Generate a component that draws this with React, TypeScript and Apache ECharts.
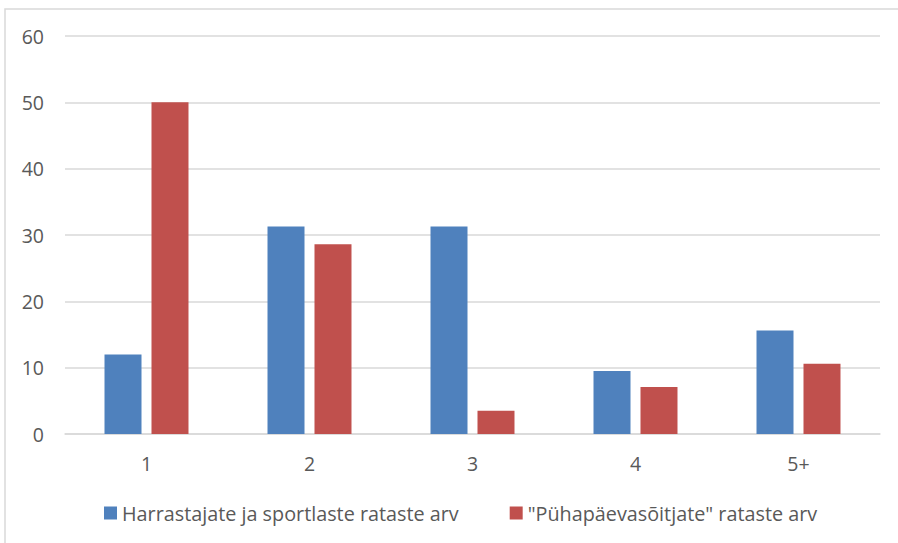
import React, { useEffect, useRef } from "react";
import * as echarts from "echarts";

const categories = ["1", "2", "3", "4", "5+"];
const seriesNames = [
  "Harrastajate ja sportlaste rataste arv",
  "\"Pühapäevasõitjate\" rataste arv",
];
const hobbyValues = [12, 31.3, 31.3, 9.5, 15.6];
const sundayValues = [50, 28.6, 3.5, 7.1, 10.6];

const FONT = "'Open Sans', sans-serif";

export default function App() {
  const ref = useRef<HTMLDivElement>(null);
  useEffect(() => {
    if (!ref.current) return;
    const chart = echarts.init(ref.current, undefined, { renderer: "svg" });
    chart.setOption({
      animation: false,
      color: ["#4f81bd", "#c0504d"],
      textStyle: { fontFamily: FONT },
      graphic: [
        {
          type: "rect",
          shape: { x: 5, y: 9, width: 900, height: 540 },
          style: { fill: "none", stroke: "#d9d9d9", lineWidth: 1.5 },
          silent: true,
        },
      ],
      grid: { left: 65, right: 18, top: 36, bottom: 109, containLabel: false },
      legend: {
        left: 99,
        top: 498,
        itemWidth: 13,
        itemHeight: 13,
        itemGap: 51,
        icon: "rect",
        textStyle: { color: "#595959", fontSize: 19.8, fontFamily: FONT },
        data: seriesNames,
      },
      xAxis: {
        type: "category",
        data: categories,
        axisLine: { show: true, lineStyle: { color: "#d9d9d9", width: 1.5 } },
        axisTick: { show: false },
        axisLabel: { color: "#595959", fontSize: 19.5, margin: 19, fontFamily: FONT },
      },
      yAxis: {
        type: "value",
        min: 0,
        max: 60,
        interval: 10,
        axisLine: { show: false },
        axisTick: { show: false },
        splitLine: { lineStyle: { color: "#d9d9d9", width: 1.5 } },
        axisLabel: { color: "#595959", fontSize: 19.5, margin: 21, fontFamily: FONT },
      },
      series: [
        {
          name: seriesNames[0],
          type: "bar",
          data: hobbyValues,
          barWidth: 37,
          barGap: "27%",
        },
        {
          name: seriesNames[1],
          type: "bar",
          data: sundayValues,
          barWidth: 37,
          barGap: "27%",
        },
      ],
    });
    return () => chart.dispose();
  }, []);
  return (
    <div
      ref={ref}
      style={{ position: "fixed", left: 0, top: 0, width: 898, height: 543, background: "#fff" }}
    />
  );
}
